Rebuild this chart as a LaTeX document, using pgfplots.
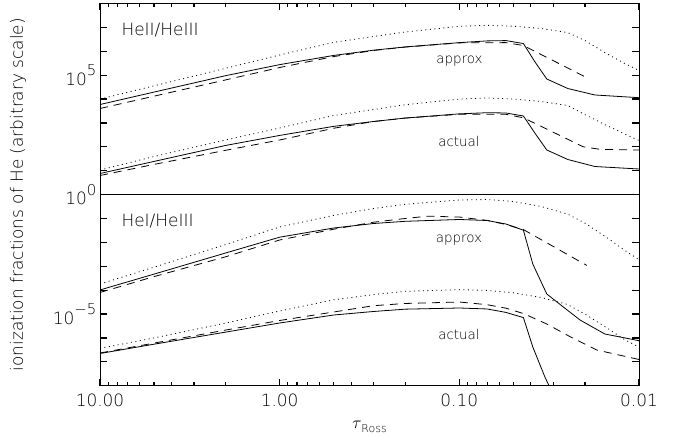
\documentclass[border=0pt]{standalone}
\usepackage{pgfplots}
\pgfplotsset{compat=1.18}
\usepackage{fontspec}
\setmainfont{DejaVu Sans ExtraLight}
\newcommand{\ylab}[1]{\fontsize{17}{17}\selectfont 10\raisebox{0.55em}{\fontsize{15}{15}\selectfont #1}}
\begin{document}
\begin{tikzpicture}
\path[use as bounding box] (-100bp,-60.3bp) rectangle (575bp,385.7bp);
\begin{axis}[
  at={(0,0)}, anchor=south west,
  scale only axis, width=539bp, height=382.2bp,
  xmode=log, ymode=log, x dir=reverse,
  xmin=0.01, xmax=10, ymin=1e-8, ymax=1e8,
  axis on top,
  axis line style={line width=0.8bp},
  xtick style={draw=black, line width=1.2bp},
  ytick style={draw=black, line width=1.2bp},
  major tick length=7bp, minor tick length=3.6bp,
  tick align=inside, tick pos=both,
  xtick={0.01,0.1,1,10},
  xticklabels={0.01,0.10,1.00,10.00},
  minor xtick={0.02,0.03,0.04,0.05,0.06,0.07,0.08,0.09,0.2,0.3,0.4,0.5,0.6,0.7,0.8,0.9,2,3,4,5,6,7,8,9},
  xticklabel style={font=\fontsize{17}{17}\selectfont, yshift=-5bp},
  ytick={1e-8,1e-7,1e-6,1e-5,1e-4,1e-3,1e-2,1e-1,1,1e1,1e2,1e3,1e4,1e5,1e6,1e7,1e8},
  yticklabels={,,,\ylab{−5},,,,,\ylab{0},,,,,\ylab{5},,,},
  minor ytick={1e9},
  xlabel={{\fontsize{18}{18}\selectfont$\tau$}\raisebox{-0.45em}{\fontsize{11}{11}\selectfont Ross}},
  xlabel style={yshift=-7bp},
  ylabel={ionization fractions of He (arbitrary scale)},
  ylabel style={font=\fontsize{17}{17}\selectfont, at={(axis description cs:-0.152,0.5)}, anchor=center},
]
\addplot[black, line width=0.8bp] coordinates {(10,1) (0.01,1)};
% ---- top panel: HeII/HeIII approx
\addplot[black, line width=0.8bp] coordinates {(10,5.90e3) (5,1.96e4) (2,9.51e4) (1,2.76e5) (0.5,6.70e5) (0.3,1.11e6) (0.2,1.52e6) (0.1,2.30e6) (0.07,2.72e6) (0.055,2.80e6) (0.044,2.11e6) (0.038,3.66e5) (0.0326,6.90e4) (0.0249,2.76e4) (0.0176,1.48e4) (0.01,1.14e4)};
\addplot[black, line width=0.8bp, dash pattern=on 8bp off 6bp] coordinates {(10,4.02e3) (5,1.32e4) (2,6.32e4) (1,2.09e5) (0.5,6.00e5) (0.3,1.08e6) (0.2,1.50e6) (0.1,2.25e6) (0.055,2.30e6) (0.044,1.74e6) (0.0195,7.82e4)};
\addplot[black, line width=0.8bp, dash pattern=on 1bp off 3.5bp] coordinates {(10,1.00e4) (5,3.58e4) (2,1.94e5) (1,6.97e5) (0.5,2.37e6) (0.3,4.15e6) (0.2,6.40e6) (0.1,1.11e7) (0.07,1.22e7) (0.05,1.12e7) (0.035,8.97e6) (0.025,6.10e6) (0.02,2.82e6) (0.015,7.68e5) (0.012,3.07e5) (0.01,1.57e5)};
% ---- top panel: HeII/HeIII actual
\addplot[black, line width=0.8bp] coordinates {(10,7.64) (5,24.5) (2,114) (1,300) (0.5,720) (0.3,1150) (0.2,1600) (0.1,2400) (0.07,2680) (0.055,2610) (0.044,1950) (0.038,379) (0.0326,73.6) (0.0249,29.5) (0.0176,15.0) (0.01,11.8)};
\addplot[black, line width=0.8bp, dash pattern=on 8bp off 6bp] coordinates {(10,6.31) (5,18.4) (2,71.5) (1,193) (0.5,600) (0.3,1150) (0.2,1600) (0.1,2300) (0.055,2300) (0.044,1640) (0.0347,695) (0.0205,101) (0.0165,78.7) (0.01,73.6)};
\addplot[black, line width=0.8bp, dash pattern=on 1bp off 3.5bp] coordinates {(10,10.7) (5,39.4) (2,193) (1,614) (0.5,2050) (0.3,3650) (0.2,5790) (0.1,1.00e4) (0.07,1.11e4) (0.05,1.00e4) (0.035,7890) (0.025,5370) (0.02,2230) (0.015,762) (0.012,344) (0.01,184)};
% ---- bottom panel: HeI/HeIII approx
\addplot[black, line width=0.8bp] coordinates {(10,1.02e-4) (5,4.70e-4) (2,3.59e-3) (1,1.65e-2) (0.5,4.00e-2) (0.3,6.17e-2) (0.2,7.62e-2) (0.1,9.08e-2) (0.07,8.24e-2) (0.055,5.87e-2) (0.044,3.24e-2) (0.039,1.24e-3) (0.0326,6.90e-5) (0.0265,2.03e-5) (0.0213,5.64e-6) (0.0155,1.46e-6) (0.01,7.66e-7)};
\addplot[black, line width=0.8bp, dash pattern=on 8bp off 6bp] coordinates {(10,7.98e-5) (5,3.70e-4) (2,2.49e-3) (1,1.26e-2) (0.5,3.56e-2) (0.3,7.00e-2) (0.2,1.00e-1) (0.15,1.25e-1) (0.1,1.15e-1) (0.07,8.32e-2) (0.055,5.60e-2) (0.044,3.43e-2) (0.0195,1.08e-3)};
\addplot[black, line width=0.8bp, dash pattern=on 1bp off 3.5bp] coordinates {(10,1.81e-4) (5,9.14e-4) (2,8.07e-3) (1,4.41e-2) (0.5,1.35e-1) (0.3,2.62e-1) (0.2,3.93e-1) (0.1,5.94e-1) (0.07,6.24e-1) (0.05,5.14e-1) (0.035,3.18e-1) (0.025,1.54e-1) (0.02,6.41e-2) (0.015,1.54e-2) (0.012,4.61e-3) (0.01,1.88e-3)};
% ---- bottom panel: HeI/HeIII actual
\addplot[black, line width=0.8bp] coordinates {(10,2.23e-7) (5,5.47e-7) (2,1.75e-6) (1,4.22e-6) (0.5,9.12e-6) (0.3,1.28e-5) (0.2,1.60e-5) (0.1,1.79e-5) (0.07,1.63e-5) (0.055,1.17e-5) (0.044,7.10e-6) (0.039,4.18e-7) (0.0334,2.32e-8) (0.0305,5.46e-9)};
\addplot[black, line width=0.8bp, dash pattern=on 8bp off 6bp] coordinates {(10,2.34e-7) (5,6.08e-7) (2,2.13e-6) (1,5.37e-6) (0.5,1.22e-5) (0.3,2.24e-5) (0.2,2.77e-5) (0.1,3.19e-5) (0.07,2.46e-5) (0.055,1.76e-5) (0.044,1.05e-5) (0.0326,3.83e-6) (0.0242,1.13e-6) (0.0172,3.13e-7) (0.01,1.25e-7)};
\addplot[black, line width=0.8bp, dash pattern=on 1bp off 3.5bp] coordinates {(10,3.68e-7) (5,1.00e-6) (2,4.18e-6) (1,1.34e-5) (0.5,3.95e-5) (0.3,6.52e-5) (0.2,8.95e-5) (0.1,1.05e-4) (0.07,9.77e-5) (0.05,7.75e-5) (0.035,4.93e-5) (0.025,2.51e-5) (0.02,1.00e-5) (0.015,2.56e-6) (0.012,8.36e-7) (0.01,4.18e-7)};
% ---- labels
\node[anchor=west, font=\fontsize{17}{17}\selectfont] at (axis description cs:0.0334,0.9307) {HeII/HeIII};
\node[anchor=west, font=\fontsize{17}{17}\selectfont] at (axis description cs:0.0334,0.431) {HeI/HeIII};
\node[font=\fontsize{13.5}{13.5}\selectfont] at (axis description cs:0.667,0.849) {approx};
\node[font=\fontsize{13.5}{13.5}\selectfont] at (axis description cs:0.666,0.638) {actual};
\node[font=\fontsize{13.5}{13.5}\selectfont] at (axis description cs:0.666,0.381) {approx};
\node[font=\fontsize{13.5}{13.5}\selectfont] at (axis description cs:0.666,0.134) {actual};
\end{axis}
\end{tikzpicture}
\end{document}
